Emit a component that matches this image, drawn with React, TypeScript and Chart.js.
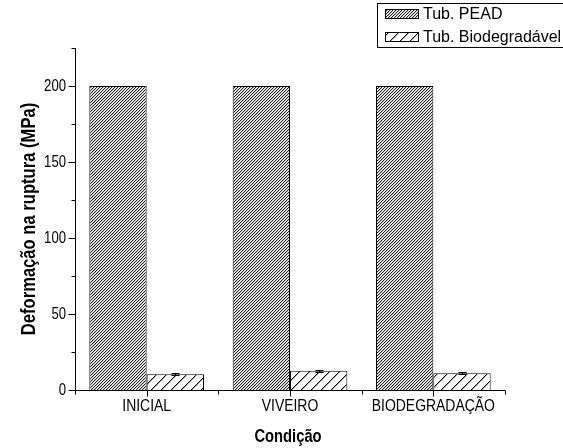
import React, { useEffect, useRef } from 'react';
import { Chart, registerables } from 'chart.js';

Chart.register(...registerables);

const categories = ['INICIAL', 'VIVEIRO', 'BIODEGRADAÇÃO'];
const seriesNames = ['Tub. PEAD', 'Tub. Biodegradável'];
const peadValues = [200, 200, 200];
const peadErrors = [0, 0, 0];
const bioValues = [10.3, 12.6, 11.0];
const bioErrors = [0.6, 0.6, 0.6];
const yMajorTicks = [0, 50, 100, 150, 200];
const yMinorTicks = [25, 75, 125, 175, 225];
const yMax = 225;
const xTitle = 'Condição';
const yTitle = 'Deformação na ruptura (MPa)';

const SANS = '"Liberation Sans", Arial, sans-serif';
const NARROW_SCALE = 0.82;

function makePattern(period: number, shades: number[]): CanvasPattern | string {
  const c = document.createElement('canvas');
  c.width = period;
  c.height = period;
  const ctx = c.getContext('2d');
  if (!ctx) return '#888';
  const img = ctx.createImageData(period, period);
  for (let y = 0; y < period; y++) {
    for (let x = 0; x < period; x++) {
      const d = (x + y) % period;
      const v = d < shades.length ? shades[d] : 255;
      const i = (y * period + x) * 4;
      img.data[i] = v;
      img.data[i + 1] = v;
      img.data[i + 2] = v;
      img.data[i + 3] = 255;
    }
  }
  ctx.putImageData(img, 0, 0);
  return ctx.createPattern(c, 'repeat') || '#888';
}

function narrowText(ctx: CanvasRenderingContext2D, text: string, x: number, y: number, scale: number) {
  ctx.save();
  ctx.translate(x, y);
  ctx.scale(scale, 1);
  ctx.fillText(text, 0, 0);
  ctx.restore();
}

export default function App() {
  const ref = useRef<HTMLCanvasElement | null>(null);

  useEffect(() => {
    const canvas = ref.current;
    if (!canvas) return;
    const densePattern = makePattern(3, [30, 200, 255]);
    const sparsePattern = makePattern(10, [0, 170]);
    const errors = [peadErrors, bioErrors];
    const patterns = [densePattern, sparsePattern];

    const decorations = {
      id: 'decorations',
      afterDatasetsDraw(chart: any) {
        const ctx = chart.ctx;
        const ys = chart.scales.y;
        ctx.save();
        ctx.strokeStyle = '#000';
        ctx.lineWidth = 1;
        chart.data.datasets.forEach((ds: any, di: number) => {
          const meta = chart.getDatasetMeta(di);
          meta.data.forEach((el: any, i: number) => {
            const e = errors[di][i];
            if (!e) return;
            const v = ds.data[i];
            const x = Math.round(el.x) + 0.5;
            const y1 = ys.getPixelForValue(v + e);
            const y2 = ys.getPixelForValue(v - e);
            ctx.beginPath();
            ctx.moveTo(x, y1);
            ctx.lineTo(x, y2);
            ctx.moveTo(x - 4, Math.round(y1) + 0.5);
            ctx.lineTo(x + 4, Math.round(y1) + 0.5);
            ctx.moveTo(x - 4, Math.round(y2) + 0.5);
            ctx.lineTo(x + 4, Math.round(y2) + 0.5);
            ctx.stroke();
          });
        });
        ctx.restore();
      },
      afterDraw(chart: any) {
        const ctx = chart.ctx;
        const xs = chart.scales.x;
        const ys = chart.scales.y;
        const area = chart.chartArea;
        const ax = Math.round(area.left) + 0.5;
        const ay = Math.round(area.bottom) + 0.5;
        ctx.save();
        ctx.strokeStyle = '#000';
        ctx.lineWidth = 1;
        ctx.beginPath();
        ctx.moveTo(ax, Math.round(ys.getPixelForValue(yMax)));
        ctx.lineTo(ax, ay);
        ctx.lineTo(Math.round(area.right) + 0.5, ay);
        yMajorTicks.forEach((v) => {
          const y = Math.round(ys.getPixelForValue(v)) + 0.5;
          ctx.moveTo(ax - 7, y);
          ctx.lineTo(ax, y);
        });
        yMinorTicks.forEach((v) => {
          const y = Math.round(ys.getPixelForValue(v)) + 0.5;
          ctx.moveTo(ax - 4, y);
          ctx.lineTo(ax, y);
        });
        categories.forEach((_, i) => {
          const x = Math.round(xs.getPixelForValue(i)) + 0.5;
          ctx.moveTo(x, ay);
          ctx.lineTo(x, ay + 6);
        });
        for (let i = 0; i <= categories.length; i++) {
          const x = Math.round(xs.getPixelForValue(i - 0.5)) + 0.5;
          ctx.moveTo(x, ay);
          ctx.lineTo(x, ay + 4);
        }
        ctx.stroke();

        ctx.fillStyle = '#000';
        ctx.textBaseline = 'middle';

        // y tick labels (condensed)
        ctx.textAlign = 'right';
        ctx.font = '16px ' + SANS;
        yMajorTicks.forEach((v) => {
          narrowText(ctx, String(v), 66, ys.getPixelForValue(v) + 0.5, NARROW_SCALE);
        });

        // x tick labels (condensed)
        ctx.textAlign = 'center';
        ctx.font = '17px ' + SANS;
        (chart.data.labels as string[]).forEach((lab, i) => {
          narrowText(ctx, lab, xs.getPixelForValue(i), 406.5, NARROW_SCALE);
        });

        // axis titles
        ctx.font = 'bold 18px ' + SANS;
        narrowText(ctx, xTitle, (area.left + area.right) / 2 - 2, 437.5, NARROW_SCALE);
        ctx.save();
        ctx.translate(29, (area.top + area.bottom) / 2);
        ctx.rotate(-Math.PI / 2);
        ctx.font = 'bold 20px ' + SANS;
        narrowText(ctx, yTitle, 0, 0, 0.83);
        ctx.restore();

        // legend
        ctx.strokeRect(377.5, 3.5, 300, 44);
        ctx.font = '16px ' + SANS;
        ctx.textAlign = 'left';
        ctx.textBaseline = 'middle';
        const rows = [14, 37];
        seriesNames.forEach((name, i) => {
          const sy = rows[i] - 5;
          ctx.fillStyle = patterns[i];
          ctx.fillRect(385, sy, 34, 10);
          ctx.strokeRect(385.5, sy + 0.5, 33, 9);
          ctx.fillStyle = '#000';
          ctx.fillText(name, 423, rows[i] + 0.5);
        });
        ctx.restore();
      },
    };

    const chart = new Chart(canvas, {
      type: 'bar',
      data: {
        labels: categories,
        datasets: [
          {
            label: seriesNames[0],
            data: peadValues,
            backgroundColor: densePattern as any,
            borderColor: '#000',
            borderWidth: 1,
          },
          {
            label: seriesNames[1],
            data: bioValues,
            backgroundColor: sparsePattern as any,
            borderColor: '#000',
            borderWidth: 1,
          },
        ],
      },
      options: {
        responsive: false,
        animation: false,
        layout: { padding: { top: 48, right: 58, left: 0, bottom: 0 } },
        datasets: { bar: { categoryPercentage: 0.8, barPercentage: 1.0 } },
        plugins: {
          legend: { display: false },
          tooltip: { enabled: false },
        },
        scales: {
          x: {
            type: 'category',
            offset: true,
            grid: { display: false, drawTicks: false },
            border: { display: false },
            ticks: { display: false },
            afterFit: (s: any) => {
              s.height = 58;
            },
          },
          y: {
            min: 0,
            max: yMax,
            grid: { display: false, drawTicks: false },
            border: { display: false },
            afterBuildTicks: (s: any) => {
              s.ticks = yMajorTicks.map((v) => ({ value: v }));
            },
            ticks: { display: false },
            afterFit: (s: any) => {
              s.width = 75;
            },
          },
        },
      },
      plugins: [decorations],
    } as any);

    return () => chart.destroy();
  }, []);

  return (
    <div style={{ position: 'fixed', left: 0, top: 0, width: 563, height: 448, background: '#fff' }}>
      <canvas ref={ref} width={563} height={448} />
    </div>
  );
}
